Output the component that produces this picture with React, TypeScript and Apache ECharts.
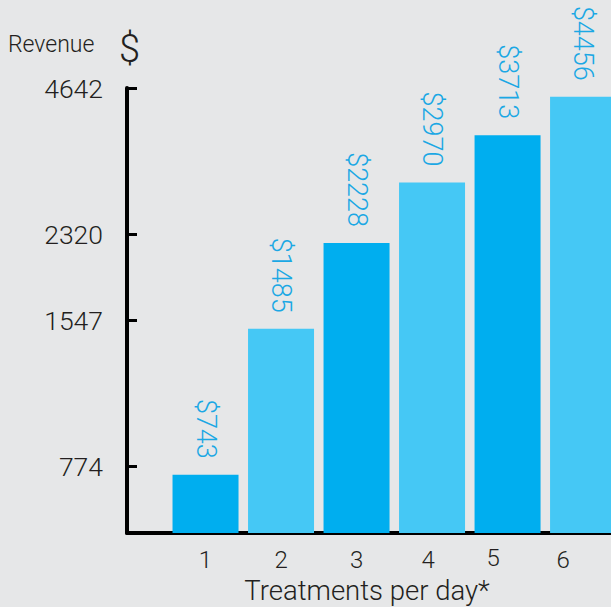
import React, { useEffect, useRef } from "react";
import * as echarts from "echarts";

const treatments = [1, 2, 3, 4, 5, 6];
const revenue = [743, 1485, 2228, 2970, 3713, 4456];
const revenueTicks = [774, 1547, 2320, 4642];
const yMin = 564;
const yMax = 4645;

const DARK = "#00aeef";
const LIGHT = "#45c8f5";
const TEXT = "#231f20";
const LABEL = "#1ba8e4";
const FONT = "Roboto, sans-serif";
const WEIGHT = 300;

export default function App() {
  const ref = useRef<HTMLDivElement>(null);
  useEffect(() => {
    if (!ref.current) return;
    const chart = echarts.init(ref.current, undefined, { renderer: "svg" });
    const base = { fontSize: 24, color: TEXT, fontFamily: FONT, fontWeight: WEIGHT };
    const rich: any = {
      n: { ...base, padding: [2, 0, 0, 0] },
      s4: { ...base, padding: [2, 8, 0, 0] },
      s5: { ...base, padding: [0, 29, 0, 0] },
      s6: { ...base, padding: [2, 40, 0, 0] },
    };
    chart.setOption({
      animation: false,
      backgroundColor: "#e6e7e8",
      textStyle: { fontFamily: FONT, fontWeight: WEIGHT },
      grid: { left: 127, right: 0, top: 88, bottom: 74, containLabel: false },
      xAxis: {
        type: "value",
        min: -0.04,
        max: 6.37,
        splitLine: { show: false },
        axisLine: { show: true, onZero: false, lineStyle: { color: "#000", width: 4 } },
        axisTick: { show: false },
        axisLabel: {
          customValues: treatments,
          margin: 13,
          formatter: (v: number) => {
            const key = v === 4 ? "s4" : v === 5 ? "s5" : v === 6 ? "s6" : "n";
            return `{${key}|${v}}`;
          },
          rich,
        },
      },
      yAxis: {
        type: "log",
        min: yMin,
        max: yMax,
        splitLine: { show: false },
        axisLine: { show: true, onZero: false, lineStyle: { color: "#000", width: 4 } },
        axisTick: {
          show: true,
          inside: true,
          length: 10,
          customValues: revenueTicks,
          lineStyle: { color: "#000", width: 3 },
        },
        axisLabel: {
          customValues: revenueTicks,
          margin: 24,
          fontSize: 26.5,
          color: TEXT,
          fontFamily: FONT,
          fontWeight: WEIGHT,
          formatter: (v: number) => String(v),
        },
      },
      series: [
        {
          type: "bar",
          barWidth: 66,
          clip: true,
          data: treatments.map((t, i) => ({
            value: [t, revenue[i]],
            itemStyle: { color: i % 2 === 0 ? DARK : LIGHT },
          })),
          label: {
            show: true,
            position: "top",
            distance: 13,
            rotate: -90,
            align: "right",
            verticalAlign: "middle",
            fontSize: 27,
            color: LABEL,
            fontFamily: FONT,
            fontWeight: WEIGHT,
            offset: [-3, 0],
            formatter: (p: any) => "$" + p.value[1],
          },
        },
      ],
      graphic: [
        {
          type: "text",
          left: 8,
          top: 33,
          style: { text: "Revenue", fontSize: 23, fill: TEXT, fontFamily: FONT, fontWeight: WEIGHT },
        },
        {
          type: "text",
          left: 119,
          top: 30,
          style: { text: "$", fontSize: 38, fill: TEXT, fontFamily: FONT, fontWeight: WEIGHT },
        },
        {
          type: "text",
          x: 367,
          y: 576,
          style: {
            text: "Treatments per day*",
            fontSize: 27.5,
            fill: TEXT,
            fontFamily: FONT,
            fontWeight: WEIGHT,
            align: "center",
            verticalAlign: "top",
          },
        },
      ],
    });
    return () => chart.dispose();
  }, []);
  return (
    <div
      ref={ref}
      style={{ position: "absolute", left: 0, top: 0, width: 611, height: 607 }}
    />
  );
}
